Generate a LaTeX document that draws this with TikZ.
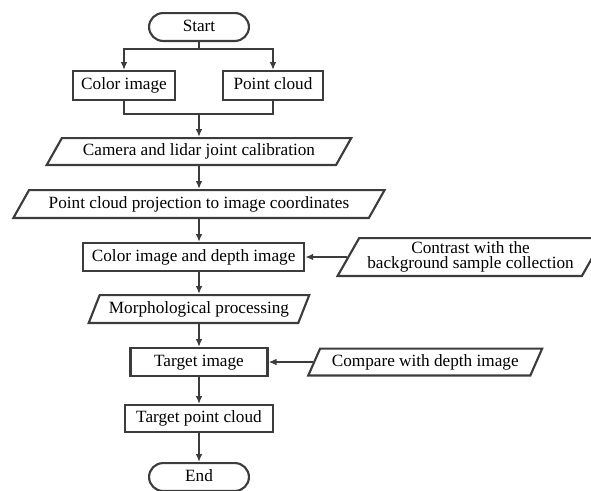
\documentclass[tikz,border=0pt]{standalone}
\usepackage{fontspec}
\setmainfont{Liberation Serif}
\usetikzlibrary{shapes.geometric, arrows.meta}
\usetikzlibrary{positioning}
\definecolor{linegray}{HTML}{3C3C3C}
\tikzstyle{arrow} = [line width=1.2pt,draw=linegray,-{Latex[length=6pt,width=5pt]}]
\tikzstyle{line} = [line width=1.2pt,draw=linegray]
\tikzstyle{terminal} = [rectangle,rounded corners=10.45pt,draw=linegray,line width=1.6pt,minimum width=74.9pt,minimum height=20.9pt,inner sep=0pt,text height=9.2pt,text depth=3pt]
\tikzstyle{process} = [rectangle,draw=linegray,line width=1.6pt,minimum height=20.9pt,inner sep=0pt,text height=9.2pt,text depth=3pt]
\tikzstyle{data} = [trapezium,trapezium left angle=50,trapezium right angle=130,trapezium stretches body,draw=linegray,line width=1.6pt,minimum height=20.9pt,inner sep=0pt,text height=9.2pt,text depth=3pt]

\begin{document}
\begin{tikzpicture}[font=\fontsize{12.9pt}{14pt}\selectfont]

\useasboundingbox (-149.25pt,20.25pt) rectangle (294pt,-347.25pt);

% main column
\node[terminal] (start) at (0,0) {Start};
\coordinate[below=5.25pt of start] (split);
\node[process,minimum width=76.4pt,minimum height=21.65pt,below=21pt of start,xshift=-56.25pt] (colorimg) {Color image};
\node[process,minimum width=74.9pt,minimum height=21.65pt,below=21pt of start,xshift=55.5pt] (pointcloud) {Point cloud};
\coordinate (axis) at (start |- colorimg.south);
\coordinate[below=9.75pt of axis] (join);
\node[data,trapezium left angle=47,trapezium right angle=133,minimum width=228.4pt,minimum height=20.15pt,below=27pt of axis] (calib) {Camera and lidar joint calibration};
\node[data,trapezium left angle=46,trapezium right angle=134,minimum width=278.4pt,below=17.25pt of calib] (proj) {Point cloud projection to image coordinates};
\node[process,minimum width=165.65pt,below=17.25pt of proj,xshift=-4pt] (cdimg) {Color image and depth image};
\node[data,trapezium left angle=56,trapezium right angle=124,minimum width=165.4pt,below=16.5pt of cdimg,xshift=4pt] (morph) {Morphological processing};
\node[process,minimum width=102.65pt,below=17.25pt of morph] (target) {Target image};
\node[process,minimum width=110.9pt,minimum height=20.15pt,below=20.25pt of target] (tpc) {Target point cloud};
\node[terminal,below=21.75pt of tpc] (stop) {End};

% side inputs
\node[data,trapezium left angle=55,trapezium right angle=125,minimum width=199.4pt,minimum height=28.4pt,align=center,text height=,text depth=,font=\fontsize{12.9pt}{11.4pt}\selectfont,right=31.5pt of cdimg] (contrast) {Contrast with the\\background sample collection};
\node[data,trapezium left angle=54,trapezium right angle=126,minimum width=175.4pt,minimum height=20.15pt,right=33.4pt of target] (compare) {Compare with depth image};

% connectors
\draw[arrow] (start.south) -- (split) -| (colorimg.north);
\draw[arrow] (split) -| (pointcloud.north);
\draw[line] (colorimg.south) |- (join) -| (pointcloud.south);
\draw[arrow] (join) -- (calib.north);
\draw[arrow] (calib.south) -- (proj.north);
\draw[arrow] (proj.south) -- (proj.south |- cdimg.north);
\draw[arrow] (proj.south |- cdimg.south) -- (morph.north);
\draw[arrow] (contrast.west) -- (cdimg.east);
\draw[arrow] (morph.south) -- (target.north);
\draw[arrow] (compare.west) -- (target.east);
\draw[arrow] (target.south) -- (tpc.north);
\draw[arrow] (tpc.south) -- (stop.north);

\end{tikzpicture}
\end{document}
